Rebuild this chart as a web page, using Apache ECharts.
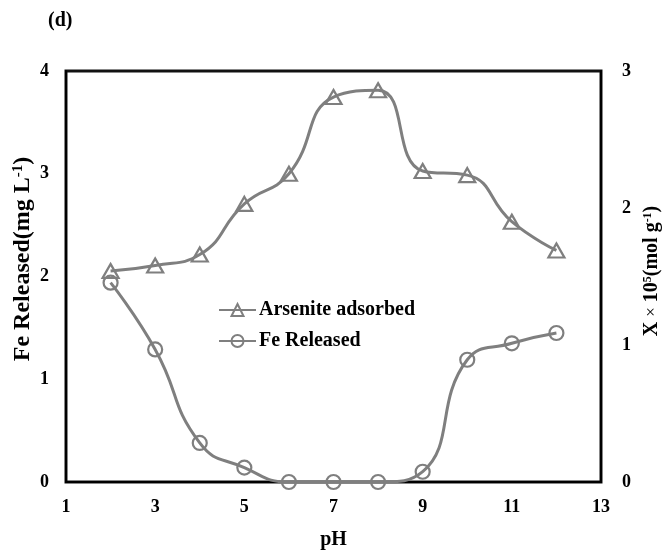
<!DOCTYPE html>
<html>
<head>
<meta charset="utf-8">
<script src="https://cdn.jsdelivr.net/npm/echarts@6/dist/echarts.min.js"></script>
<style>
  html, body { margin: 0; padding: 0; background: #fff; }
  #chart { width: 662px; height: 555px; }
</style>
</head>
<body>
<div id="chart"></div>
<script>
// pH values shared by both series
const phValues = [2, 3, 4, 5, 6, 7, 8, 9, 10, 11, 12];
// Arsenite adsorbed, X × 10^5 (mol g^-1), right axis
const arseniteAdsorbed = [1.54, 1.58, 1.66, 2.03, 2.25, 2.81, 2.86, 2.27, 2.24, 1.90, 1.69];
// Fe released (mg L^-1), left axis
const feReleased = [1.94, 1.29, 0.38, 0.14, 0, 0, 0, 0.10, 1.19, 1.35, 1.45];

const serif = '"Liberation Serif", "Times New Roman", serif';
const grey = '#7f7f7f';

const pair = (xs, ys) => xs.map((x, i) => [x, ys[i]]);

const chart = echarts.init(document.getElementById('chart'), null, { renderer: 'canvas' });

const tickLabel = { color: '#000', fontFamily: serif, fontWeight: 'bold', fontSize: 18 };
const titleRich = (size) => ({
  b: { fontFamily: serif, fontWeight: 'bold', fontSize: size, color: '#000' },
  s: { fontFamily: serif, fontWeight: 'bold', fontSize: Math.round(size * 0.62), color: '#000', verticalAlign: 'top' },
  m: { fontFamily: serif, fontWeight: 'normal', fontSize: Math.round(size * 0.85), color: '#000' }
});

chart.setOption({
  animation: false,
  backgroundColor: '#fff',
  title: {
    text: '(d)',
    left: 43,
    top: 6,
    textStyle: { fontFamily: serif, fontWeight: 'bold', fontSize: 20, color: '#000' }
  },
  grid: {
    left: 66, right: 61, top: 71, bottom: 68,
    show: true, borderColor: '#111', borderWidth: 3, backgroundColor: '#fff'
  },
  legend: {
    orient: 'vertical',
    left: 213,
    top: 295,
    itemWidth: 37,
    itemHeight: 15,
    itemGap: 11,
    textStyle: { fontFamily: serif, fontWeight: 'bold', fontSize: 20, color: '#000', padding: [0, 0, 0, -2] },
    data: ['Arsenite adsorbed', 'Fe Released']
  },
  // rotated axis titles with superscripts
  graphic: [
    {
      type: 'text', x: 23, y: 259, rotation: Math.PI / 2,
      style: {
        text: '{b|Fe Released(mg L}{s|-1}{b|)}',
        rich: titleRich(24), align: 'center', verticalAlign: 'middle'
      }
    },
    {
      type: 'text', x: 652, y: 271, rotation: Math.PI / 2,
      style: {
        text: '{b|X }{m|×}{b| 10}{s|5}{b|(mol g}{s|-1}{b|)}',
        rich: titleRich(20), align: 'center', verticalAlign: 'middle'
      }
    }
  ],
  xAxis: {
    type: 'value', min: 1, max: 13, interval: 2,
    name: 'pH', nameLocation: 'middle', nameGap: 48,
    nameTextStyle: { fontFamily: serif, fontWeight: 'bold', fontSize: 20, color: '#000' },
    axisLine: { show: true, lineStyle: { color: '#000', width: 2 } },
    axisTick: { show: false },
    splitLine: { show: false },
    axisLabel: Object.assign({ margin: 16 }, tickLabel)
  },
  yAxis: [
    {
      type: 'value', min: 0, max: 4, interval: 1, position: 'left',
      axisLine: { show: true, lineStyle: { color: '#000', width: 2 } },
      axisTick: { show: false },
      splitLine: { show: false },
      axisLabel: Object.assign({ margin: 17 }, tickLabel)
    },
    {
      type: 'value', min: 0, max: 3, interval: 1, position: 'right',
      axisLine: { show: true, lineStyle: { color: '#000', width: 2 } },
      axisTick: { show: false },
      splitLine: { show: false },
      axisLabel: Object.assign({ margin: 21 }, tickLabel)
    }
  ],
  series: [
    {
      name: 'Arsenite adsorbed',
      type: 'line',
      yAxisIndex: 1,
      smooth: 0.5,
      data: pair(phValues, arseniteAdsorbed),
      symbol: 'triangle',
      symbolSize: [16, 14],
      lineStyle: { color: grey, width: 3 },
      itemStyle: { color: 'rgba(255,255,255,0)', borderColor: grey, borderWidth: 2.2 },
      z: 3
    },
    {
      name: 'Fe Released',
      type: 'line',
      yAxisIndex: 0,
      smooth: 0.5,
      data: pair(phValues, feReleased),
      symbol: 'circle',
      symbolSize: 14,
      lineStyle: { color: grey, width: 3 },
      itemStyle: { color: 'rgba(255,255,255,0)', borderColor: grey, borderWidth: 2.2 },
      z: 3
    }
  ]
});
</script>
</body>
</html>
